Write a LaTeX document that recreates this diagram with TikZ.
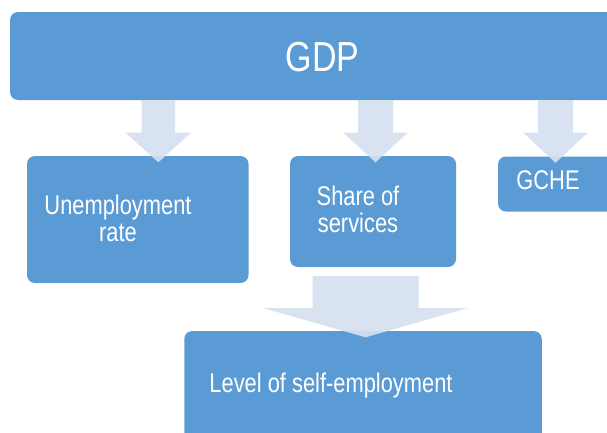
\documentclass[tikz,border=0pt]{standalone}
\usepackage{fontspec}
\setmainfont{Liberation Sans}[FakeStretch=0.81]
\definecolor{boxblue}{RGB}{91,155,213}
\definecolor{flowblue}{RGB}{213,224,239}
\usetikzlibrary{calc}

\tikzset{
  factor/.style={fill=boxblue,rounded corners=8pt},
  factortext/.style={text=white,font=\fontsize{27}{27.4}\selectfont,align=center,anchor=base,inner sep=0pt},
  flow/.style={fill=flowblue,fill opacity=0.92}
}

\begin{document}
\begin{tikzpicture}[x=1pt,y=-1pt]
  \clip (0,0) rectangle (607,432);
  \node[factor,minimum width=612pt,minimum height=88pt] (gdp) at (316,56) {};
  \node[factor,minimum width=221.5pt,minimum height=127pt] (unemp) at (137.75,219.5) {};
  \node[factor,minimum width=166pt,minimum height=111pt] (share) at (373,211.5) {};
  \node[factor,minimum width=122pt,minimum height=55pt] (gche) at (559,184) {};
  \node[factor,minimum width=357.5pt,minimum height=122pt] (level) at (363,392) {};
  \node[factortext,font=\fontsize{42}{42}\selectfont] (gdp-txt) at (322.5,71) {GDP};
  \node[factortext] (unemp-txt) at (118,241.7) {Unemployment\\rate};
  \node[factortext] (share-txt) at (358,232.7) {Share of\\services};
  \node[factortext] (gche-txt) at (548,189.5) {GCHE};
  \node[factortext] (level-txt) at (331,392.7) {Level of self-employment};
  \foreach \ax/\from/\to/\gap/\shaft/\head/\neck in {158.3/gdp/unemp/0/16.7/33/132.5,
      375.5/gdp/share/0/17.5/32.5/132.5, 555.5/gdp/gche/0/17.5/32.5/132.5,
      365.5/share/level/9/53/102.5/308}
    \fill[flow] ($(\ax,0 |- \from.south)+(-\shaft,\gap)$) -- ++(2*\shaft,0) -- (\ax+\shaft,\neck)
      -- (\ax+\head,\neck) -- ($(\ax,0 |- \to.north)+(0,6.5)$) -- (\ax-\head,\neck)
      -- (\ax-\shaft,\neck) -- cycle;
\end{tikzpicture}
\end{document}
